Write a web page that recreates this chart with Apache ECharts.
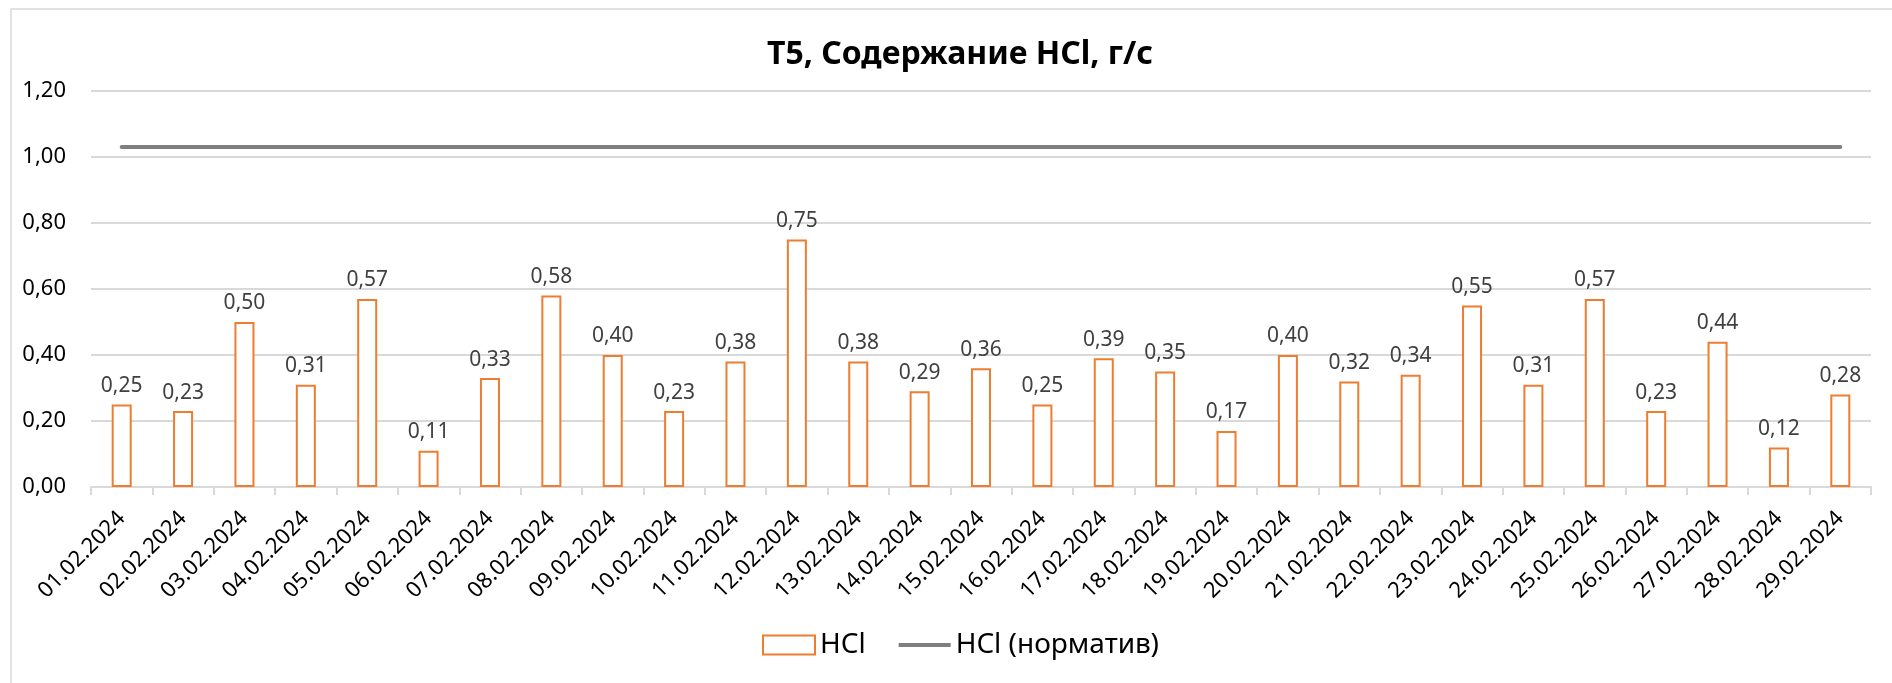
<!DOCTYPE html>
<html>
<head>
<meta charset="utf-8">
<script src="https://cdn.jsdelivr.net/npm/echarts@6/dist/echarts.min.js"></script>
<style>
  html, body { margin: 0; padding: 0; background: #fff; }
  #chart { width: 1892px; height: 683px; }
</style>
</head>
<body>
<div id="chart"></div>
<script>
const titleText = 'Т5, Содержание HCl, г/с';
const categories = ['01.02.2024','02.02.2024','03.02.2024','04.02.2024','05.02.2024','06.02.2024','07.02.2024','08.02.2024','09.02.2024','10.02.2024','11.02.2024','12.02.2024','13.02.2024','14.02.2024','15.02.2024','16.02.2024','17.02.2024','18.02.2024','19.02.2024','20.02.2024','21.02.2024','22.02.2024','23.02.2024','24.02.2024','25.02.2024','26.02.2024','27.02.2024','28.02.2024','29.02.2024'];
const hclValues = [0.25,0.23,0.50,0.31,0.57,0.11,0.33,0.58,0.40,0.23,0.38,0.75,0.38,0.29,0.36,0.25,0.39,0.35,0.17,0.40,0.32,0.34,0.55,0.31,0.57,0.23,0.44,0.12,0.28];
const normValues = [1.03,1.03,1.03,1.03,1.03,1.03,1.03,1.03,1.03,1.03,1.03,1.03,1.03,1.03,1.03,1.03,1.03,1.03,1.03,1.03,1.03,1.03,1.03,1.03,1.03,1.03,1.03,1.03,1.03];
const seriesNames = ['HCl', 'HCl (норматив)'];

const FONT = 'Noto Sans';
const fmt = v => Number(v).toFixed(2).replace('.', ',');

const chart = echarts.init(document.getElementById('chart'), null, { renderer: 'canvas' });
chart.setOption({
  animation: false,
  backgroundColor: '#ffffff',
  textStyle: { fontFamily: FONT },
  title: {
    text: titleText,
    left: 960,
    textAlign: 'center',
    top: 39,
    padding: 0,
    textStyle: { fontFamily: FONT, fontSize: 32, fontWeight: 'bold', color: '#000000' }
  },
  graphic: [{
    type: 'rect',
    silent: true,
    z: -10,
    shape: { x: 11, y: 9, width: 1900, height: 700 },
    style: { fill: 'none', stroke: '#D9D9D9', lineWidth: 1.5 }
  }],
  legend: {
    left: 762,
    top: 631,
    padding: 0,
    itemGap: 33,
    itemWidth: 52,
    itemHeight: 19,
    textStyle: { fontFamily: FONT, fontSize: 28, color: '#000000' },
    data: [
      { name: seriesNames[0], icon: 'rect' },
      { name: seriesNames[1], icon: 'path://M0,0 L0,0 M0,7.5 L52,7.5 L52,11.5 L0,11.5 Z M52,19 L52,19' }
    ]
  },
  grid: { left: 91, right: 21, top: 91, bottom: 196 },
  xAxis: {
    type: 'category',
    data: categories,
    axisLine: { lineStyle: { color: '#D9D9D9', width: 2 } },
    axisTick: { show: true, length: 8, lineStyle: { color: '#D9D9D9', width: 2 } },
    axisLabel: {
      interval: 0,
      rotate: 45,
      margin: 28,
      padding: [20, 0, 0, 0],
      fontFamily: FONT,
      fontSize: 22,
      color: '#000000'
    }
  },
  yAxis: {
    type: 'value',
    min: 0,
    max: 1.2,
    interval: 0.2,
    axisLine: { show: false },
    axisTick: { show: false },
    splitLine: { lineStyle: { color: '#D9D9D9', width: 2 } },
    axisLabel: {
      margin: 25,
      fontFamily: FONT,
      fontSize: 22,
      color: '#000000',
      formatter: fmt
    }
  },
  series: [
    {
      name: seriesNames[0],
      type: 'bar',
      data: hclValues,
      barWidth: '32.6%',
      itemStyle: { color: '#ffffff', borderColor: '#ED7D31', borderWidth: 2 },
      label: {
        show: true,
        position: 'top',
        distance: 8,
        fontFamily: FONT,
        fontSize: 21,
        color: '#404040',
        formatter: p => fmt(p.value)
      },
      z: 2
    },
    {
      name: seriesNames[1],
      type: 'line',
      data: normValues,
      symbol: 'none',
      color: '#7F7F7F',
      lineStyle: { color: '#7F7F7F', width: 4, cap: 'round' },
      z: 3
    }
  ]
});
</script>
</body>
</html>
